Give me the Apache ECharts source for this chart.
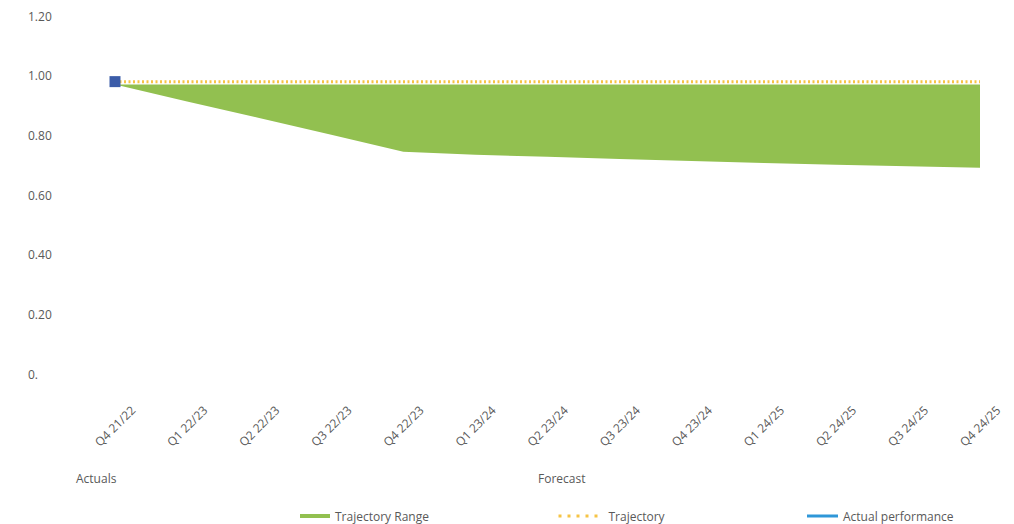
<!DOCTYPE html>
<html>
<head>
<meta charset="utf-8">
<script src="https://cdn.jsdelivr.net/npm/echarts@6/dist/echarts.min.js"></script>
<style>
  html, body { margin: 0; padding: 0; background: #ffffff; }
  #chart { width: 1014px; height: 524px; }
</style>
</head>
<body>
<div id="chart"></div>
<script>
var quarters = ['Q4 21/22', 'Q1 22/23', 'Q2 22/23', 'Q3 22/23', 'Q4 22/23', 'Q1 23/24', 'Q2 23/24',
  'Q3 23/24', 'Q4 23/24', 'Q1 24/25', 'Q2 24/25', 'Q3 24/25', 'Q4 24/25'];
var rangeLower = [0.97, 0.913, 0.858, 0.802, 0.745, 0.735, 0.728, 0.721, 0.714, 0.707, 0.701, 0.696, 0.691];
var rangeUpper = [0.97, 0.97, 0.97, 0.97, 0.97, 0.97, 0.97, 0.97, 0.97, 0.97, 0.97, 0.97, 0.97];
var trajectory = [0.98, 0.98, 0.98, 0.98, 0.98, 0.98, 0.98, 0.98, 0.98, 0.98, 0.98, 0.98, 0.98];
var actual = [0.98, null, null, null, null, null, null, null, null, null, null, null, null];

(function() {
  var font = '"Open Sans", "DejaVu Sans", sans-serif';
  var grey = '#595959';
  var green = '#92c050';
  var yellow = '#f6c445';
  var blue = '#3b5ca8';
  var lightBlue = '#2f97d8';

  // stacked band: invisible base + (upper - lower)
  var band = rangeUpper.map(function(v, i) { return +(v - rangeLower[i]).toFixed(4); });

  var chart = echarts.init(document.getElementById('chart'), null, { renderer: 'svg' });
  chart.setOption({
    animation: false,
    textStyle: { fontFamily: font },
    grid: { left: 115, right: 34, top: 16, bottom: 150 },
    legend: [
      {
        left: 295, top: 505, itemWidth: 30, itemHeight: 4, itemGap: 5,
        textStyle: { color: grey, fontSize: 12, fontFamily: font },
        data: [{ name: 'Trajectory Range', icon: 'rect', itemStyle: { color: green } }]
      },
      {
        left: 552, top: 505, itemWidth: 45, itemHeight: 10,
        textStyle: { color: grey, fontSize: 12, fontFamily: font },
        data: [{ name: 'Trajectory', itemStyle: { opacity: 0 }, lineStyle: { color: yellow, width: 3, type: [3, 6] } }]
      },
      {
        left: 802, top: 505, itemWidth: 31, itemHeight: 3,
        textStyle: { color: grey, fontSize: 12, fontFamily: font },
        data: [{ name: 'Actual performance', icon: 'rect', itemStyle: { color: lightBlue } }]
      }
    ],
    xAxis: {
      type: 'category',
      data: quarters,
      boundaryGap: false,
      axisLine: { show: false },
      axisTick: { show: false },
      axisLabel: {
        rotate: 45, align: 'center', verticalAlign: 'middle', margin: 52,
        color: grey, fontSize: 12, fontFamily: font, interval: 0
      }
    },
    yAxis: {
      type: 'value',
      min: 0, max: 1.2, interval: 0.2,
      axisLine: { show: false },
      axisTick: { show: false },
      splitLine: { show: false },
      axisLabel: {
        align: 'left', margin: 87, color: grey, fontSize: 12, fontFamily: font,
        formatter: function(v) { return v === 0 ? '0.' : v.toFixed(2); }
      }
    },
    graphic: [
      { type: 'text', left: 76, top: 472, style: { text: 'Actuals', fill: grey, fontSize: 12, fontFamily: font } },
      { type: 'text', left: 538, top: 472, style: { text: 'Forecast', fill: grey, fontSize: 12, fontFamily: font } }
    ],
    series: [
      {
        name: 'rangeBase',
        type: 'line',
        stack: 'range',
        data: rangeLower,
        symbol: 'none',
        lineStyle: { width: 0 },
        silent: true
      },
      {
        name: 'Trajectory Range',
        type: 'line',
        stack: 'range',
        data: band,
        symbol: 'none',
        lineStyle: { width: 0, color: green },
        itemStyle: { color: green },
        areaStyle: { color: green, opacity: 1 }
      },
      {
        name: 'Trajectory',
        type: 'line',
        data: trajectory,
        symbol: 'none',
        z: 3,
        lineStyle: { color: yellow, width: 3, type: [2, 2.5] },
        itemStyle: { color: yellow }
      },
      {
        name: 'Actual performance',
        type: 'line',
        data: actual,
        symbol: 'rect',
        symbolSize: 11,
        showSymbol: true,
        z: 4,
        lineStyle: { color: lightBlue, width: 3 },
        itemStyle: { color: blue }
      }
    ]
  });
  window.addEventListener('resize', function() { chart.resize(); });
})();
</script>
</body>
</html>
